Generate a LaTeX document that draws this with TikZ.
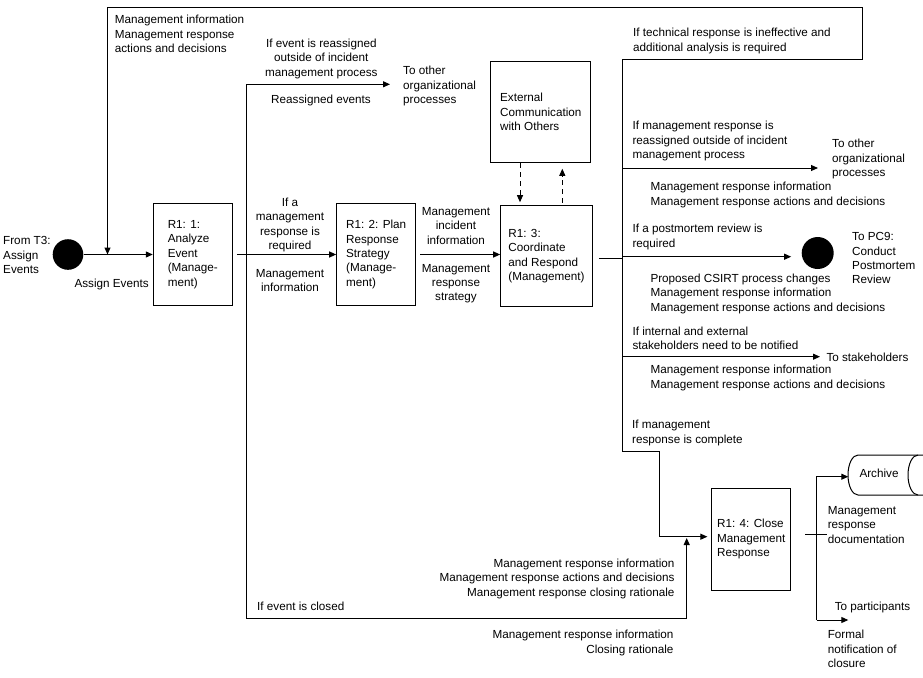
\documentclass[tikz,border=0pt]{standalone}
\usepackage{fontspec}
\setmainfont{Liberation Sans}
\usetikzlibrary{arrows.meta}
\begin{document}
\begin{tikzpicture}[x=1pt,y=-1pt, line width=1pt,
  every node/.style={font=\fontsize{11.7}{14.4}\selectfont},
  lbl/.style={inner sep=0, align=left},
  box/.style={draw, inner sep=0, align=left},
  arr/.style={-{Triangle[length=7pt,width=6pt]}},
  dsh/.style={dash pattern=on 5pt off 4pt},
  dot/.style={circle, fill=black, inner sep=0}]
\useasboundingbox (0,0) rectangle (923,677);
\clip (0,0) rectangle (923,677);
\fill[white] (0,0) rectangle (923,677);

% nodes
\node[dot, minimum size=30.6pt] (s) at (68,254.5) {};
\node[box, minimum width=79pt, minimum height=102pt] (b1) at (192.8,254.5) {R1: 1:\\Analyze\\Event\\(Manage-\\ment)};
\node[box, minimum width=79pt, minimum height=102pt] (b2) at (376.2,254.5) {R1: 2: Plan\\Response\\Strategy\\(Manage-\\ment)};
\node[box, minimum width=91.6pt, minimum height=101pt] (b3) at (546.5,256.2) {R1: 3:\\Coordinate\\and Respond\\(Management)};
\node[box, minimum width=100.3pt, minimum height=101.7pt] (ext) at (540.8,111.9) {External\\Communication\\with Others};
\node[box, minimum width=78.7pt, minimum height=101.7pt] (b4) at (751.3,539.2) {R1: 4: Close\\Management\\Response};
\node[dot, minimum size=32pt] (pm) at (817.7,253) {};

% archive
\draw (923,455) -- (858,455) arc[start angle=270, end angle=90, x radius=10, y radius=20] -- (923,495);
\draw (918,455) arc[start angle=270, end angle=90, x radius=10, y radius=20];
\node[lbl] (arch) at (879,473) {Archive};

% coordinates
\coordinate (fb) at (107.5,254.5);
\coordinate (bt) at (622,59.5);
\coordinate (ra) at (246,84.3);
\coordinate (rb) at (246,618.7);
\coordinate (rto) at (390,84.3);
\coordinate (j3) at (622,258);
\coordinate (b4in) at (711.9,536.7);
\coordinate (o1) at (827.3,534.3);
\coordinate (ot) at (816.7,476.7);
\coordinate (ob) at (816.7,620);
\coordinate (archin) at (848.3,476.7);
\coordinate (partc) at (848.3,620);

% connectors
\draw[arr] (s) -- (b1);
\draw[arr] (bt) -- (862,59.5) -- (862,8) -- (107.5,8) -- (fb);
\draw[arr, shorten <=4pt] (b1) -- (b2);
\draw (ra) -- (rb);
\draw[arr] (ra) -- (rto);
\draw[arr] (rb) -- (686.7,618.7) -- (686.7,538);
\draw[arr, shorten <=4pt] (b2.east) -- (b3.west |- b2.east);
\draw[shorten <=6pt] (b3.east |- j3) -- (j3);
\draw[arr, shorten >=4.5pt] (bt) -- (622,451) -- (659.3,451) -- (659.3,536.7) -- (b4in);
\draw[arr] (622,168) -- (818,168);
\draw[arr, shorten >=10pt] (622,256.7) -- (pm.west |- 0,256.7);
\draw[arr] (622,356.7) -- (820,356.7);
\draw[arr, dsh, shorten >=3pt] (ext.south -| 520,0) -- (b3.north -| 520,0);
\draw[arr, dsh, shorten <=2.5pt, shorten >=5.5pt] (b3.north -| 562.3,0) -- (ext.south -| 562.3,0);
\draw[shorten <=14.3pt] (b4.east |- o1) -- (o1);
\draw[arr] (ob) -- (ot) -- (archin);
\draw[arr] (ob) -- (partc);

% labels
\node[lbl, anchor=north west] (t1) at (114.3,15) {Management information\\Management response\\actions and decisions};
\node[lbl, align=center, anchor=north] (t2) at (321.3,38.5) {If event is reassigned\\outside of incident\\management process};
\node[lbl, anchor=north] (t3) at (321,95) {Reassigned events};
\node[lbl, anchor=north west] (t4) at (402.7,66) {To other\\organizational\\processes};
\node[lbl, anchor=north west] (t5) at (2.7,236) {From T3:\\Assign\\Events};
\node[lbl, anchor=north west] (t6) at (74,278.5) {Assign Events};
\node[lbl, align=center, anchor=north] (t7) at (290,197.5) {If a\\management\\response is\\required};
\node[lbl, align=center, anchor=north] (t8) at (290,268.5) {Management\\information};
\node[lbl, align=center, anchor=north] (t9) at (456,207) {Management\\incident\\information};
\node[lbl, align=center, anchor=north] (t10) at (456,263.5) {Management\\response\\strategy};
\node[lbl, anchor=north west] (t12) at (632.7,28) {If technical response is ineffective and\\additional analysis is required};
\node[lbl, anchor=north west] (t13) at (632,121) {If management response is\\reassigned outside of incident\\management process};
\node[lbl, anchor=north west] (t14) at (831.7,139) {To other\\organizational\\processes};
\node[lbl, anchor=north west] (t15) at (650,182) {Management response information\\Management response actions and decisions};
\node[lbl, anchor=north west] (t16) at (632,224) {If a postmortem review is\\required};
\node[lbl, anchor=north west] (t17) at (851.7,232) {To PC9:\\Conduct\\Postmortem\\Review};
\node[lbl, anchor=north west] (t18) at (650,273.5) {Proposed CSIRT process changes\\Management response information\\Management response actions and decisions};
\node[lbl, anchor=north west] (t19) at (632,326.5) {If internal and external\\stakeholders need to be notified};
\node[lbl, anchor=north west] (t20) at (826,352.5) {To stakeholders};
\node[lbl, anchor=north west] (t21) at (650,365) {Management response information\\Management response actions and decisions};
\node[lbl, anchor=north west] (t22) at (631.7,420) {If management\\response is complete};
\node[lbl, anchor=north west] (t23) at (827.3,506) {Management\\response\\documentation};
\node[lbl, align=right, anchor=north east] (t24) at (675,558.5) {Management response information\\Management response actions and decisions\\Management response closing rationale};
\node[lbl, anchor=north west] (t25) at (256.7,602) {If event is closed};
\node[lbl, align=right, anchor=north east] (t26) at (674,630) {Management response information\\Closing rationale};
\node[lbl, anchor=north west] (t27) at (834.3,602) {To participants};
\node[lbl, anchor=north west] (t28) at (827.3,630) {Formal\\notification of\\closure};
\end{tikzpicture}
\end{document}
